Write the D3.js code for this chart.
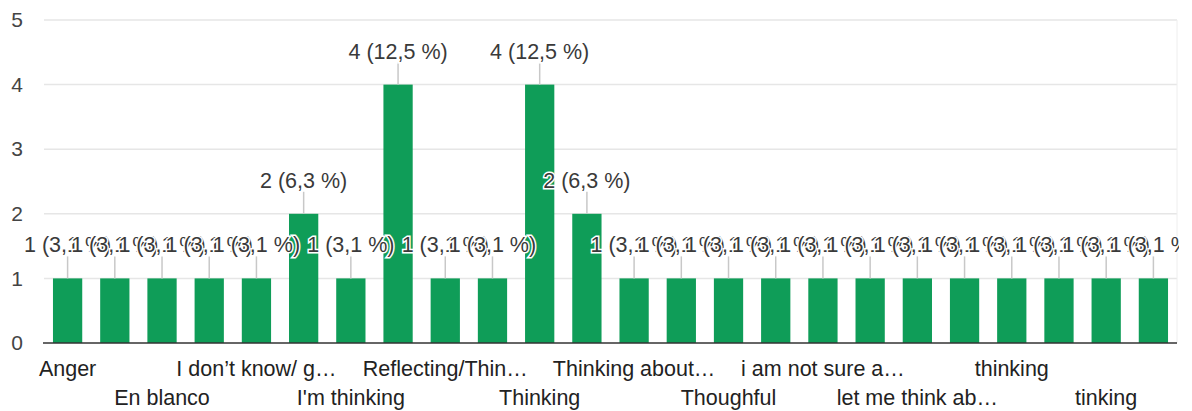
<!DOCTYPE html>
<html>
<head>
<meta charset="utf-8">
<script src="https://cdn.jsdelivr.net/npm/d3@7"></script>
<style>
  body { margin: 0; background: #fff; }
  svg { display: block; font-family: "Liberation Sans", Arial, sans-serif; }
</style>
</head>
<body>
<div class="chart"></div>
<script>
// answers, in the order the form shows them ("" = label hidden by the chart)
var labels = ["Anger", "", "En blanco", "", "I don\u2019t know/ g\u2026", "", "I'm thinking", "",
    "Reflecting/Thin\u2026", "", "Thinking", "", "Thinking about\u2026", "", "Thoughful", "",
    "i am not sure a\u2026", "", "let me think ab\u2026", "", "thinking", "", "tinking", ""];
var counts = [1, 1, 1, 1, 1, 2, 1, 4, 1, 1, 4, 2, 1, 1, 1, 1, 1, 1, 1, 1, 1, 1, 1, 1];
var yTicks = [0, 1, 2, 3, 4, 5];

var W = 1192, H = 411;
var margin = { top: 20, right: 15, bottom: 68, left: 44 };
var total = d3.sum(counts);

var svg = d3.select("div.chart").append("svg")
    .attr("width", W)
    .attr("height", H);

var x = d3.scaleBand()
    .domain(d3.range(counts.length))
    .range([margin.left, W - margin.right])
    .paddingInner(0.38)
    .paddingOuter(0.19);

var y = d3.scaleLinear()
    .domain([0, 5])
    .range([H - margin.bottom, margin.top]);

// grid
svg.append("g").selectAll("line")
    .data(yTicks.slice(1))
    .enter().append("line")
    .attr("x1", margin.left)
    .attr("x2", W - margin.right)
    .attr("y1", function(d) { return y(d); })
    .attr("y2", function(d) { return y(d); })
    .attr("stroke", "#e6e6e6")
    .attr("stroke-width", 1.5);

svg.append("line")
    .attr("x1", W - margin.right).attr("x2", W - margin.right)
    .attr("y1", y(5)).attr("y2", y(0))
    .attr("stroke", "#eeeeee");

// y axis labels
var yAxis = d3.axisLeft(y).tickValues(yTicks).tickFormat(d3.format("d"))
    .tickSize(0).tickPadding(21);
svg.append("g")
    .attr("transform", "translate(" + (margin.left) + ",0)")
    .call(yAxis)
    .call(function(g) { g.select(".domain").remove(); })
    .selectAll("text")
    .attr("fill", "#444")
    .style("font-size", "21px")
    .style("font-family", "Liberation Sans, Arial, sans-serif");

// bars
svg.append("g").selectAll("rect")
    .data(counts)
    .enter().append("rect")
    .attr("x", function(d, i) { return x(i); })
    .attr("y", function(d) { return y(d); })
    .attr("width", x.bandwidth())
    .attr("height", function(d) { return y(0) - y(d); })
    .attr("fill", "#0f9d58");

// baseline
svg.append("line")
    .attr("x1", margin.left - 1)
    .attr("x2", W - margin.right)
    .attr("y1", y(0))
    .attr("y2", y(0))
    .attr("stroke", "#333")
    .attr("stroke-width", 1.5);

// x labels, alternating rows
var xAxis = svg.append("g");
xAxis.selectAll("text")
    .data(labels)
    .enter().append("text")
    .attr("x", function(d, i) { return x(i) + x.bandwidth() / 2; })
    .attr("y", function(d, i) { return (i / 2) % 2 === 0 ? 376 : 405; })
    .attr("text-anchor", "middle")
    .attr("fill", "#222")
    .style("font-size", "21.5px")
    .text(function(d) { return d; });

// annotations with leader lines, drawn left to right so later ones cover earlier
var fmt = function(v) {
    return v + " (" + d3.format(".1f")(v / total * 100).replace(".", ",") + " %)";
};
svg.append("defs").append("clipPath").attr("id", "clip")
    .append("rect").attr("x", 0).attr("y", 0).attr("width", W - margin.right + 2).attr("height", H);

var ann = svg.append("g").attr("clip-path", "url(#clip)")
    .selectAll("g")
    .data(counts)
    .enter().append("g");

ann.append("line")
    .attr("x1", function(d, i) { return x(i) + x.bandwidth() / 2; })
    .attr("x2", function(d, i) { return x(i) + x.bandwidth() / 2; })
    .attr("y1", function(d) { return y(d) - 22; })
    .attr("y2", function(d) { return y(d); })
    .attr("stroke", "#c8c8c8")
    .attr("stroke-width", 1.5);

ann.append("text")
    .attr("x", function(d, i) { return x(i) + x.bandwidth() / 2; })
    .attr("y", function(d) { return y(d) - 26; })
    .attr("text-anchor", "middle")
    .attr("fill", "#3a3a3a")
    .attr("stroke", "#fff")
    .attr("stroke-width", 3)
    .attr("paint-order", "stroke")
    .style("font-size", "21.5px")
    .text(fmt);
</script>
</body>
</html>
